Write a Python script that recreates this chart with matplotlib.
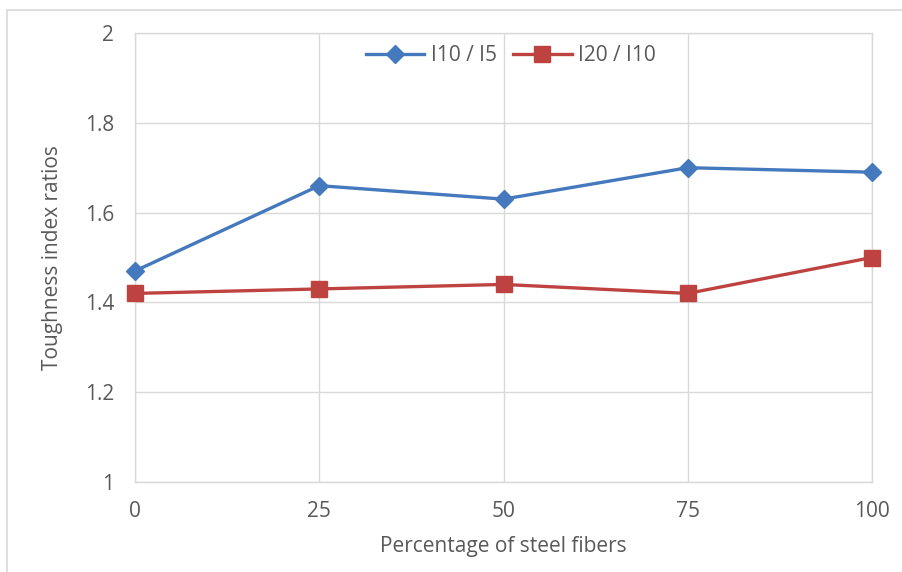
import matplotlib.pyplot as plt
from matplotlib.patches import Rectangle

# data
steel_pct = [0, 25, 50, 75, 100]
i10_i5 = [1.47, 1.66, 1.63, 1.70, 1.69]
i20_i10 = [1.42, 1.43, 1.44, 1.42, 1.50]
y_ticks = [1, 1.2, 1.4, 1.6, 1.8, 2]
y_labels = ["1", "1.2", "1.4", "1.6", "1.8", "2"]


def main():
    plt.rcParams['font.family'] = ['Open Sans', 'DejaVu Sans']
    txt = "#595959"
    grid = "#d9d9d9"

    fig = plt.figure(figsize=(9.02, 5.72), dpi=100)
    ax = fig.add_axes([135 / 902, 1 - 482 / 572, (872 - 135) / 902, (482 - 33) / 572])

    ax.plot(steel_pct, i10_i5, color="#4579bd", linewidth=2.4, marker="D",
            markersize=9, label="I10 / I5", clip_on=False, zorder=3)
    ax.plot(steel_pct, i20_i10, color="#be4340", linewidth=2.4, marker="s",
            markersize=11, label="I20 / I10", clip_on=False, zorder=3)

    ax.set_xlim(0, 100)
    ax.set_ylim(1, 2)
    ax.set_xticks(steel_pct)
    ax.set_yticks(y_ticks)
    ax.set_yticklabels(y_labels)
    ax.grid(True, color=grid, linewidth=1)
    ax.set_axisbelow(True)
    for s in ax.spines.values():
        s.set_color(grid)
        s.set_linewidth(1)
    ax.tick_params(length=0, labelsize=15, colors=txt)
    ax.tick_params(axis="y", pad=15)
    ax.tick_params(axis="x", pad=14)

    ax.set_xlabel("Percentage of steel fibers", fontsize=15, color=txt, labelpad=10)
    ax.set_ylabel("Toughness index ratios", fontsize=15, color=txt, labelpad=16)

    leg = ax.legend(loc="upper center", bbox_to_anchor=(0.51, 1.015), ncol=2,
                    frameon=False, fontsize=15, handlelength=2.8, columnspacing=0.8,
                    handletextpad=0.3)
    for t in leg.get_texts():
        t.set_color(txt)

    # light chart-area border
    fig.patches.append(Rectangle((7 / 902, -0.1), 1.2, 1 - 10 / 572 + 0.1,
                                 transform=fig.transFigure, fill=False,
                                 edgecolor=grid, linewidth=1.2))

    plt.savefig("out.png", dpi=100)


if __name__ == "__main__":
    main()
